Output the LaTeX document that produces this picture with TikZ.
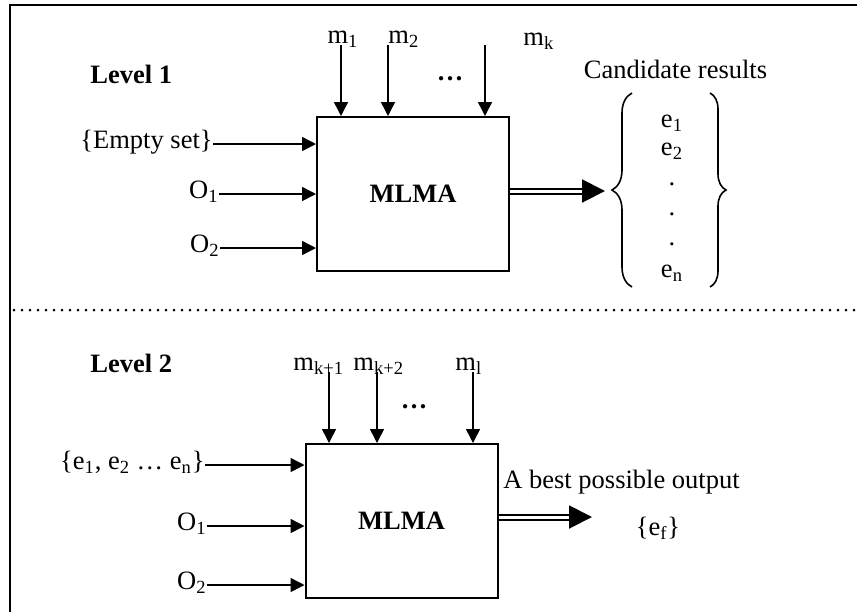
\documentclass[tikz,border=0pt]{standalone}
\usepackage{fontspec}
\setmainfont{Liberation Serif}
\usetikzlibrary{arrows.meta,decorations.pathreplacing}
\tikzset{
  lbl/.style={inner sep=0pt, font=\fontsize{13.25pt}{15pt}\selectfont},
  blbl/.style={lbl, font=\fontsize{13.25pt}{15pt}\selectfont\bfseries},
  proc/.style={draw, line width=1pt, inner sep=0pt, minimum width=96pt, minimum height=77pt, font=\fontsize{13.25pt}{15pt}\selectfont\bfseries},
  inarrow/.style={line width=0.75pt, -{Triangle[length=7pt,width=7pt]}},
  outarrow/.style={line width=1pt, double, double distance=1.5pt, -{Triangle[length=11.5pt,width=11.5pt]}, shorten >=0pt},
  framel/.style={line width=1.1pt},
  sep/.style={line width=1.5pt, dash pattern=on 0pt off 4pt, line cap=round},
  brc/.style={line width=0.8pt, decorate},
}
\begin{document}
\begin{tikzpicture}[x=0.5pt, y=-0.5pt]
\useasboundingbox (0,0) rectangle (857,612);
% frame
\draw[framel] (10,612) -- (10,5) -- (857,5);
% separator
\draw[sep] (14,310) -- (857,310);

% ---------- Level 1 ----------
\node[blbl, anchor=base west] (lev1) at (90,83) {Level 1};
\node[proc] (box1) at (413,194) {MLMA};
\node[lbl, anchor=base] (m1) at (343,43) {m\textsubscript{1}};
\node[lbl, anchor=base west] (m2) at (388,43) {m\textsubscript{2}};
\node[lbl, anchor=base west] (mk) at (523,45) {m\textsubscript{k}};
\node[blbl, anchor=center] (dots1) at (450,79) {…};
\coordinate (m1t) at (341,45);
\coordinate (m2t) at (388,45);
\coordinate (mkt) at (485,45);
\draw[inarrow] (m1t) -- (m1t |- box1.north);
\draw[inarrow] (m2t) -- (m2t |- box1.north);
\draw[inarrow] (mkt) -- (mkt |- box1.north);

\node[lbl, anchor=mid east] (es) at (213,144) {\{Empty set\}};
\node[lbl, anchor=mid east] (o11) at (219,194) {O\textsubscript{1}};
\node[lbl, anchor=mid east] (o21) at (220,248) {O\textsubscript{2}};
\draw[inarrow] (es.mid east) -- (es.mid east -| box1.west);
\draw[inarrow] (o11.mid east) -- (o11.mid east -| box1.west);
\draw[inarrow] (o21.mid east) -- (o21.mid east -| box1.west);

\coordinate (r1) at (605,191);
\draw[outarrow] (box1.east |- r1) -- (r1);

\node[lbl, anchor=base] (cand) at (675.5,78) {Candidate results};
\draw[brc, decoration={brace, amplitude=10pt}] (632,287) -- (632,93);
\draw[brc, decoration={brace, amplitude=8pt}] (710,93) -- (710,287);
\node[lbl, anchor=base] (e1) at (672,127) {e\textsubscript{1}};
\node[lbl, anchor=base] (e2) at (672,155) {e\textsubscript{2}};
\node[lbl, anchor=base] (d1) at (672,185) {.};
\node[lbl, anchor=base] (d2) at (672,215) {.};
\node[lbl, anchor=base] (d3) at (672,245) {.};
\node[lbl, anchor=base] (en) at (672,277) {e\textsubscript{n}};

% ---------- Level 2 ----------
\node[blbl, anchor=base west] (lev2) at (90,372) {Level 2};
\node[proc] (box2) at (401.5,521) {MLMA};
\node[lbl, anchor=base west] (mk1) at (293,370) {m\textsubscript{k+1}};
\node[lbl, anchor=base west] (mk2) at (353,370) {m\textsubscript{k+2}};
\node[lbl, anchor=base west] (ml) at (455,370) {m\textsubscript{l}};
\node[blbl, anchor=center] (dots2) at (414,407) {…};
\coordinate (mk1t) at (329,372);
\coordinate (mk2t) at (377,372);
\coordinate (mlt) at (473,372);
\draw[inarrow] (mk1t) -- (mk1t |- box2.north);
\draw[inarrow] (mk2t) -- (mk2t |- box2.north);
\draw[inarrow] (mlt) -- (mlt |- box2.north);

\node[lbl, anchor=mid east] (eset) at (205,465) {\{e\textsubscript{1}, e\textsubscript{2} … e\textsubscript{n}\}};
\node[lbl, anchor=mid east] (o12) at (207,526) {O\textsubscript{1}};
\node[lbl, anchor=mid east] (o22) at (207,585) {O\textsubscript{2}};
\draw[inarrow] (eset.mid east) -- (eset.mid east -| box2.west);
\draw[inarrow] (o12.mid east) -- (o12.mid east -| box2.west);
\draw[inarrow] (o22.mid east) -- (o22.mid east -| box2.west);

\coordinate (r2) at (592,517);
\draw[outarrow] (box2.east |- r2) -- (r2);
\node[lbl, anchor=base west] (best) at (503,488) {A best possible output};
\node[lbl, anchor=base] (ef) at (658,535) {\{e\textsubscript{f}\}};
\end{tikzpicture}
\end{document}
